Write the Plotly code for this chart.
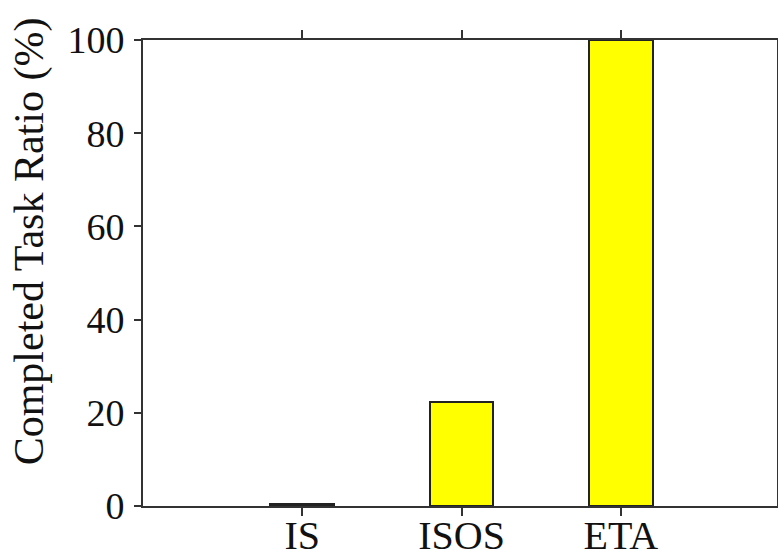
import plotly.graph_objects as go

categories = ["IS", "ISOS", "ETA"]
values = [0.5, 22.3, 100.0]
y_ticks = [0, 20, 40, 60, 80, 100]

FONT = "Liberation Serif, Times New Roman, serif"

fig = go.Figure()
fig.add_trace(go.Bar(
    x=list(range(len(categories))),
    y=values,
    width=0.4,
    marker=dict(color="#FFFF00", line=dict(color="#222222", width=2)),
    showlegend=False,
))

fig.update_layout(
    width=778, height=558,
    margin=dict(l=143, r=1, t=40, b=52, pad=0, autoexpand=False),
    paper_bgcolor="white", plot_bgcolor="white",
    font=dict(family=FONT, size=38, color="#111111"),
    bargap=0,
    xaxis=dict(
        range=[-1.0, 2.98],
        tickmode="array",
        tickvals=list(range(len(categories))),
        ticktext=categories,
        ticks="outside", ticklen=8, tickwidth=2, tickcolor="#333333",
        showline=True, linecolor="#333333", linewidth=2,
        mirror="ticks",
        showgrid=False, zeroline=False, automargin=False,
        tickfont=dict(family=FONT, size=40, color="#111111"),
        ticklabelstandoff=-15,
    ),
    yaxis=dict(
        range=[0, 100],
        tickmode="array",
        tickvals=y_ticks,
        ticks="outside", ticklen=7, tickwidth=2, tickcolor="#333333",
        showline=True, linecolor="#333333", linewidth=2,
        mirror=True,
        showgrid=False, zeroline=False, automargin=False,
        tickfont=dict(family=FONT, size=38, color="#111111"),
        ticklabelstandoff=2,
    ),
)

fig.add_annotation(
    text="Completed Task Ratio (%)",
    xref="paper", yref="paper",
    x=(29 - 143) / 634, y=0.568,
    xanchor="center", yanchor="middle",
    textangle=-90, showarrow=False,
    font=dict(family=FONT, size=42, color="#111111"),
)

fig.write_html("out.html")
